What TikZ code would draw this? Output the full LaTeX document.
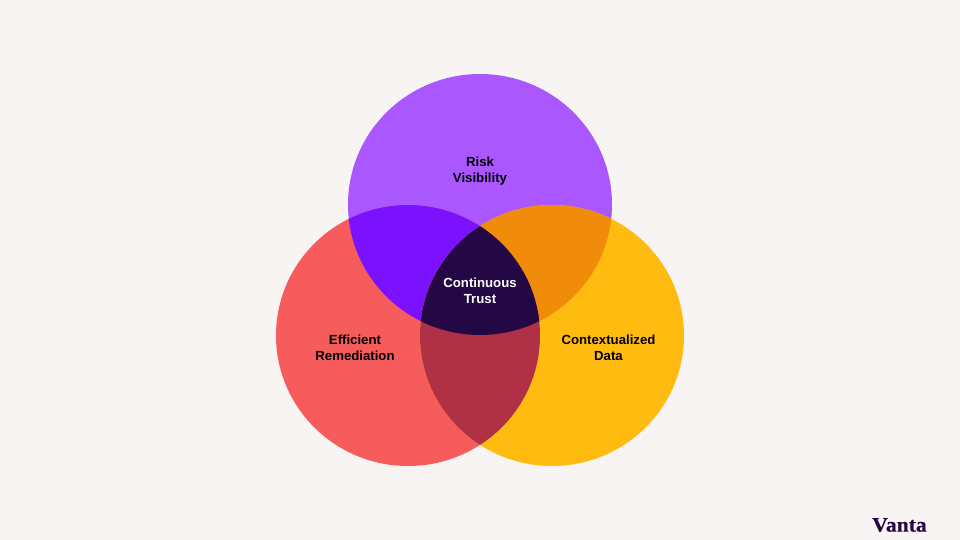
\documentclass[tikz,border=0pt]{standalone}
\usepackage{fontspec}
\setmainfont{Liberation Sans}
\newfontfamily\logofont[FakeBold=0.4,FakeStretch=1.05]{Liberation Serif}
\definecolor{bgc}{HTML}{F8F4F3}
\definecolor{topc}{HTML}{AB57FF}
\definecolor{leftc}{HTML}{F75C5C}
\definecolor{rightc}{HTML}{FFBB0F}
\definecolor{tlc}{HTML}{7A12FF}
\definecolor{trc}{HTML}{F08C0A}
\definecolor{lrc}{HTML}{B03045}
\definecolor{midc}{HTML}{240845}
\tikzset{
  lbl/.style={align=center,font=\fontsize{13.2}{16}\selectfont\bfseries,text=black,inner sep=0pt},
  lblw/.style={lbl,text=white},
  blob/.style={x radius=132pt,y radius=130.5pt}
}
\begin{document}
\begin{tikzpicture}[x=1pt,y=-1pt]
\useasboundingbox (0,0) rectangle (960,540);
\fill[bgc] (0,0) rectangle (960,540);
\coordinate (T) at (480,204.5);
\coordinate (L) at (408,335.5);
\coordinate (R) at (552,335.5);
\fill[topc] (T) ellipse[blob];
\fill[leftc] (L) ellipse[blob];
\fill[rightc] (R) ellipse[blob];
\begin{scope}
  \clip (T) ellipse[blob];
  \fill[tlc] (L) ellipse[blob];
  \fill[trc] (R) ellipse[blob];
\end{scope}
\begin{scope}
  \clip (L) ellipse[blob];
  \fill[lrc] (R) ellipse[blob];
\end{scope}
\begin{scope}
  \clip (T) ellipse[blob];
  \clip (L) ellipse[blob];
  \fill[midc] (R) ellipse[blob];
\end{scope}
\node[lbl] (risk) at (480,171) {Risk\\Visibility};
\node[lbl] (eff) at (355,348) {Efficient\\Remediation};
\node[lbl] (ctx) at (608.5,348) {Contextualized\\Data};
\node[lblw] (trust) at (480,291) {Continuous\\Trust};
\node[inner sep=0pt,text=midc,font=\logofont\fontsize{20.6}{22}\selectfont\bfseries] (vanta) at (899.5,525) {Vanta};
\end{tikzpicture}
\end{document}
